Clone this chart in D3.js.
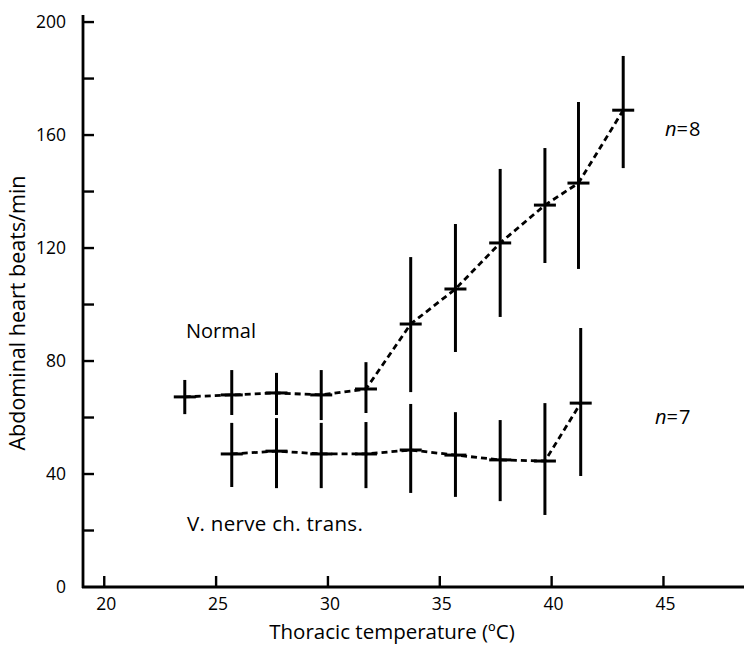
<!DOCTYPE html>
<html>
<head>
<meta charset="utf-8">
<script src="https://cdn.jsdelivr.net/npm/d3@7"></script>
<style>
  html, body { margin: 0; padding: 0; background: #fff; }
  svg { display: block; }
  text { font-family: "Open Sans", Lato, sans-serif; fill: #000; font-weight: 500; }
</style>
</head>
<body>
<script>
// ---- Data ----
const normalTemp = [23.6, 25.7, 27.7, 29.7, 31.7, 33.7, 35.7, 37.7, 39.7, 41.2, 43.2];
const normalMean = [67.3, 68.0, 68.7, 68.0, 70.1, 93.1, 105.5, 121.8, 135.2, 143.0, 168.8];
const normalLow  = [61.2, 60.9, 60.9, 59.1, 61.6, 69.0, 83.2, 95.6, 114.7, 112.6, 148.3];
const normalHigh = [73.3, 76.8, 75.8, 76.8, 79.6, 116.8, 128.5, 148.0, 155.4, 171.7, 188.0];

const vnerveTemp = [25.7, 27.7, 29.7, 31.7, 33.7, 35.7, 37.7, 39.7, 41.3];
const vnerveMean = [47.1, 48.1, 47.1, 47.1, 48.5, 46.7, 45.0, 44.6, 65.1];
const vnerveLow  = [35.4, 35.0, 35.0, 35.0, 33.3, 31.9, 30.4, 25.5, 39.3];
const vnerveHigh = [58.1, 59.8, 58.1, 58.4, 64.8, 61.9, 59.1, 65.1, 91.7];

const xTickValues = [20, 25, 30, 35, 40, 45];
const yMajorTicks = [0, 40, 80, 120, 160, 200];
const yAllTicks = [0, 20, 40, 60, 80, 100, 120, 140, 160, 180, 200];

const xTitle = "Thoracic temperature (\u00BAC)";
const yTitle = "Abdominal heart beats/min";

// ---- Layout ----
const W = 744, H = 646;
const svg = d3.select("body").append("svg").attr("width", W).attr("height", H);

const x = d3.scaleLinear().domain([19.05, 48.6]).range([83, 744]);
const y = d3.scaleLinear().domain([0, 202.5]).range([587, 15]);

const ink = "#000";

// Axes lines
svg.append("line")
  .attr("x1", x(19.05)).attr("x2", x(19.05))
  .attr("y1", y(0) + 1).attr("y2", y(202.5))
  .attr("stroke", ink).attr("stroke-width", 2.8);
svg.append("line")
  .attr("x1", x(19.05) - 1).attr("x2", x(48.6))
  .attr("y1", y(0)).attr("y2", y(0))
  .attr("stroke", ink).attr("stroke-width", 2.8);

// Y ticks (inward, to the right)
svg.selectAll(".yt").data(yAllTicks.filter(d => d > 0)).enter().append("line")
  .attr("x1", x(19.05)).attr("x2", x(19.05) + 11)
  .attr("y1", d => y(d)).attr("y2", d => y(d))
  .attr("stroke", ink).attr("stroke-width", 2.4);
svg.selectAll(".yl").data(yMajorTicks).enter().append("text")
  .attr("x", 66).attr("y", d => y(d))
  .attr("dy", "0.36em")
  .attr("text-anchor", "end")
  .attr("font-size", 17.5)
  .text(d => d);

// X ticks (inward, upward)
svg.selectAll(".xt").data(xTickValues).enter().append("line")
  .attr("x1", d => x(d)).attr("x2", d => x(d))
  .attr("y1", y(0)).attr("y2", y(0) - 11)
  .attr("stroke", ink).attr("stroke-width", 2.4);
svg.selectAll(".xl").data(xTickValues).enter().append("text")
  .attr("x", d => x(d) + 2).attr("y", 610)
  .attr("text-anchor", "middle")
  .attr("font-size", 17.5)
  .text(d => d);

// Axis titles
svg.append("text")
  .attr("x", 392).attr("y", 639)
  .attr("text-anchor", "middle")
  .attr("font-size", 20.5)
  .text(xTitle);
svg.append("text")
  .attr("transform", "translate(25,313) rotate(-90)")
  .attr("text-anchor", "middle")
  .attr("font-size", 21.5)
  .text(yTitle);

// Series drawing
function drawSeries(temps, means, lows, highs) {
  const pts = temps.map((t, i) => ({ t, m: means[i], lo: lows[i], hi: highs[i] }));
  const line = d3.line().x(d => x(d.t)).y(d => y(d.m));
  svg.append("path")
    .datum(pts)
    .attr("d", line)
    .attr("fill", "none")
    .attr("stroke", ink)
    .attr("stroke-width", 2.8)
    .attr("stroke-dasharray", "6,4");
  const g = svg.append("g");
  g.selectAll(".eb").data(pts).enter().append("line")
    .attr("x1", d => x(d.t)).attr("x2", d => x(d.t))
    .attr("y1", d => y(d.lo)).attr("y2", d => y(d.hi))
    .attr("stroke", ink).attr("stroke-width", 3);
  g.selectAll(".mb").data(pts).enter().append("line")
    .attr("x1", d => x(d.t) - 11).attr("x2", d => x(d.t) + 11)
    .attr("y1", d => y(d.m)).attr("y2", d => y(d.m))
    .attr("stroke", ink).attr("stroke-width", 3);
}
drawSeries(normalTemp, normalMean, normalLow, normalHigh);
drawSeries(vnerveTemp, vnerveMean, vnerveLow, vnerveHigh);

// Labels
svg.append("text").attr("x", 186).attr("y", 338).attr("font-size", 20).text("Normal");
svg.append("text").attr("x", 187).attr("y", 531).attr("font-size", 20.5).attr("letter-spacing", 0.3).text("V. nerve ch. trans.");

const n8 = svg.append("text").attr("x", 665).attr("y", 136).attr("font-size", 20);
n8.append("tspan").attr("font-style", "italic").text("n");
n8.append("tspan").attr("letter-spacing", 1).text("=8");
const n7 = svg.append("text").attr("x", 655).attr("y", 424).attr("font-size", 20);
n7.append("tspan").attr("font-style", "italic").text("n");
n7.append("tspan").attr("letter-spacing", 1).text("=7");
</script>
</body>
</html>
